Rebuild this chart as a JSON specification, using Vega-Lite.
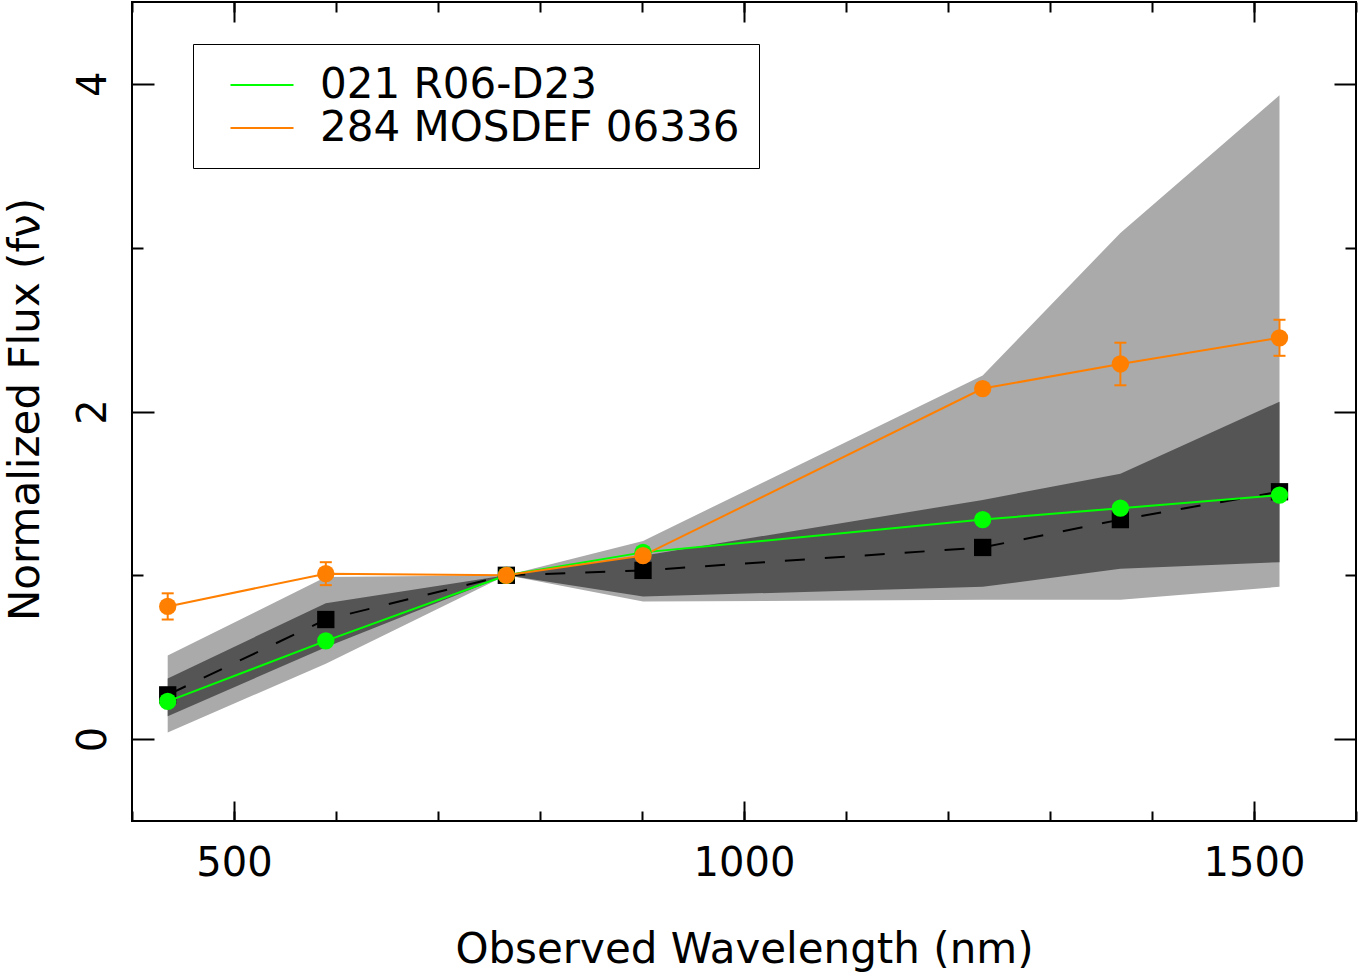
{
  "$schema": "https://vega.github.io/schema/vega-lite/v6.json",
  "width": 1224,
  "height": 819,
  "autosize": {"type": "none"},
  "padding": {"left": 132, "top": 2, "right": 3, "bottom": 152},
  "background": "white",
  "config": {
    "view": {"stroke": "black", "strokeWidth": 2},
    "axis": {
      "domain": false, "grid": false, "tickColor": "black", "tickWidth": 2,
      "labelFont": "DejaVu Sans", "labelFontSize": 40, "labelColor": "black",
      "titleFont": "DejaVu Sans", "titleFontSize": 42, "titleColor": "black", "titleFontWeight": "normal"
    }
  },
  "datasets": {
    "band": [
      {"wl": 435, "lo95": 0.04, "lo68": 0.14, "hi68": 0.37, "hi95": 0.51},
      {"wl": 590, "lo95": 0.46, "lo68": 0.56, "hi68": 0.83, "hi95": 0.99},
      {"wl": 767, "lo95": 1.0, "lo68": 1.0, "hi68": 1.0, "hi95": 1.0},
      {"wl": 901, "lo95": 0.84, "lo68": 0.87, "hi68": 1.12, "hi95": 1.21},
      {"wl": 1234, "lo95": 0.85, "lo68": 0.93, "hi68": 1.46, "hi95": 2.22},
      {"wl": 1369, "lo95": 0.85, "lo68": 1.04, "hi68": 1.62, "hi95": 3.09},
      {"wl": 1525, "lo95": 0.93, "lo68": 1.08, "hi68": 2.06, "hi95": 3.93}
    ],
    "median": [
      {"wl": 435, "flux": 0.27},
      {"wl": 590, "flux": 0.73},
      {"wl": 767, "flux": 1.0},
      {"wl": 901, "flux": 1.03},
      {"wl": 1234, "flux": 1.17},
      {"wl": 1369, "flux": 1.34},
      {"wl": 1525, "flux": 1.51}
    ],
    "obj": [
      {"series": "021 R06-D23", "wl": 435, "flux": 0.23, "lo": 0.23, "hi": 0.23},
      {"series": "021 R06-D23", "wl": 590, "flux": 0.60, "lo": 0.60, "hi": 0.60},
      {"series": "021 R06-D23", "wl": 767, "flux": 1.0, "lo": 1.0, "hi": 1.0},
      {"series": "021 R06-D23", "wl": 901, "flux": 1.14, "lo": 1.14, "hi": 1.14},
      {"series": "021 R06-D23", "wl": 1234, "flux": 1.34, "lo": 1.34, "hi": 1.34},
      {"series": "021 R06-D23", "wl": 1369, "flux": 1.41, "lo": 1.41, "hi": 1.41},
      {"series": "021 R06-D23", "wl": 1525, "flux": 1.49, "lo": 1.49, "hi": 1.49},
      {"series": "284 MOSDEF 06336", "wl": 435, "flux": 0.81, "lo": 0.73, "hi": 0.89},
      {"series": "284 MOSDEF 06336", "wl": 590, "flux": 1.01, "lo": 0.94, "hi": 1.08},
      {"series": "284 MOSDEF 06336", "wl": 767, "flux": 1.0, "lo": 1.0, "hi": 1.0},
      {"series": "284 MOSDEF 06336", "wl": 901, "flux": 1.12, "lo": 1.09, "hi": 1.15},
      {"series": "284 MOSDEF 06336", "wl": 1234, "flux": 2.14, "lo": 2.12, "hi": 2.16},
      {"series": "284 MOSDEF 06336", "wl": 1369, "flux": 2.29, "lo": 2.16, "hi": 2.42},
      {"series": "284 MOSDEF 06336", "wl": 1525, "flux": 2.45, "lo": 2.34, "hi": 2.56}
    ]
  },
  "layer": [
    {
      "data": {"name": "band"},
      "mark": {"type": "area", "color": "#aaaaaa", "opacity": 1},
      "encoding": {
        "x": {"field": "wl", "type": "quantitative",
          "scale": {"domain": [400, 1600], "nice": false, "zero": false},
          "axis": {"orient": "bottom", "values": [500, 1000, 1500], "format": "d", "tickSize": -20, "labelPadding": 42,
            "title": "Observed Wavelength (nm)", "titleX": 612, "titleY": 128, "titleBaseline": "middle", "titleAlign": "center"}},
        "y": {"field": "lo95", "type": "quantitative",
          "scale": {"domain": [-0.5, 4.5], "nice": false, "zero": false},
          "axis": {"orient": "left", "values": [0, 2, 4], "format": "d", "tickSize": -22, "labelPadding": 49,
            "labelAngle": -90, "labelAlign": "center", "labelBaseline": "alphabetic",
            "title": "Normalized Flux (fν)", "titleX": -107, "titleY": 407, "titleAngle": -90, "titleBaseline": "middle", "titleAlign": "center"}},
        "y2": {"field": "hi95"}
      }
    },
    {
      "data": {"name": "band"},
      "mark": {"type": "area", "color": "#555555", "opacity": 1},
      "encoding": {
        "x": {"field": "wl", "type": "quantitative",
          "axis": {"orient": "bottom", "values": [400, 500, 600, 700, 800, 900, 1000, 1100, 1200, 1300, 1400, 1500, 1600], "tickSize": -10, "labels": false, "title": null}},
        "y": {"field": "lo68", "type": "quantitative",
          "axis": {"orient": "left", "values": [1, 3], "tickSize": -11, "labels": false, "title": null}},
        "y2": {"field": "hi68"}
      }
    },
    {
      "data": {"name": "median"},
      "mark": {"type": "line", "color": "black", "strokeWidth": 2, "strokeDash": [20, 20]},
      "encoding": {
        "x": {"field": "wl", "type": "quantitative",
          "axis": {"orient": "top", "values": [500, 1000, 1500], "tickSize": -20, "labels": false, "title": null}},
        "y": {"field": "flux", "type": "quantitative",
          "axis": {"orient": "right", "values": [0, 2, 4], "tickSize": -22, "labels": false, "title": null}}
      }
    },
    {
      "data": {"name": "median"},
      "mark": {"type": "point", "shape": "square", "filled": true, "size": 300, "color": "black", "opacity": 1},
      "encoding": {
        "x": {"field": "wl", "type": "quantitative",
          "axis": {"orient": "top", "values": [400, 500, 600, 700, 800, 900, 1000, 1100, 1200, 1300, 1400, 1500, 1600], "tickSize": -10, "labels": false, "title": null}},
        "y": {"field": "flux", "type": "quantitative",
          "axis": {"orient": "right", "values": [1, 3], "tickSize": -11, "labels": false, "title": null}}
      }
    },
    {
      "data": {"name": "obj"},
      "mark": {"type": "line", "strokeWidth": 2},
      "encoding": {
        "x": {"field": "wl", "type": "quantitative", "axis": null},
        "y": {"field": "flux", "type": "quantitative", "axis": null},
        "color": {"field": "series", "type": "nominal",
          "scale": {"domain": ["021 R06-D23", "284 MOSDEF 06336"], "range": ["#00ff00", "#ff7f00"]},
          "legend": {"orient": "none", "legendX": 61, "legendY": 42, "title": null,
            "symbolType": "M-1.5,0H1.5", "symbolSize": 1764, "symbolStrokeWidth": 2,
            "labelFont": "DejaVu Sans", "labelFontSize": 42, "labelColor": "black", "labelOffset": 36, "labelLimit": 2000,
            "padding": 19, "symbolOffset": 28, "rowPadding": 0,
            "strokeColor": "black", "fillColor": "white", "cornerRadius": 0}}
      }
    },
    {
      "data": {"name": "obj"},
      "transform": [{"filter": "datum.series === '021 R06-D23'"}],
      "mark": {"type": "point", "shape": "circle", "filled": true, "size": 300, "color": "#00ff00", "opacity": 1},
      "encoding": {
        "x": {"field": "wl", "type": "quantitative", "axis": null},
        "y": {"field": "flux", "type": "quantitative", "axis": null}
      }
    },
    {
      "data": {"name": "obj"},
      "transform": [{"filter": "datum.series === '284 MOSDEF 06336'"}],
      "mark": {"type": "point", "shape": "circle", "filled": true, "size": 300, "color": "#ff7f00", "opacity": 1},
      "encoding": {
        "x": {"field": "wl", "type": "quantitative", "axis": null},
        "y": {"field": "flux", "type": "quantitative", "axis": null}
      }
    },
    {
      "data": {"name": "obj"},
      "transform": [{"filter": "datum.series === '284 MOSDEF 06336'"}],
      "mark": {"type": "rule", "color": "#ff7f00", "strokeWidth": 2},
      "encoding": {
        "x": {"field": "wl", "type": "quantitative", "axis": null},
        "y": {"field": "lo", "type": "quantitative", "axis": null},
        "y2": {"field": "hi"}
      }
    },
    {
      "data": {"name": "obj"},
      "transform": [{"filter": "datum.series === '284 MOSDEF 06336'"}],
      "mark": {"type": "tick", "orient": "horizontal", "color": "#ff7f00", "size": 12, "thickness": 2, "opacity": 1},
      "encoding": {
        "x": {"field": "wl", "type": "quantitative", "axis": null},
        "y": {"field": "lo", "type": "quantitative", "axis": null}
      }
    },
    {
      "data": {"name": "obj"},
      "transform": [{"filter": "datum.series === '284 MOSDEF 06336'"}],
      "mark": {"type": "tick", "orient": "horizontal", "color": "#ff7f00", "size": 12, "thickness": 2, "opacity": 1},
      "encoding": {
        "x": {"field": "wl", "type": "quantitative", "axis": null},
        "y": {"field": "hi", "type": "quantitative", "axis": null}
      }
    }
  ],
  "resolve": {"axis": {"x": "independent", "y": "independent"}}
}
